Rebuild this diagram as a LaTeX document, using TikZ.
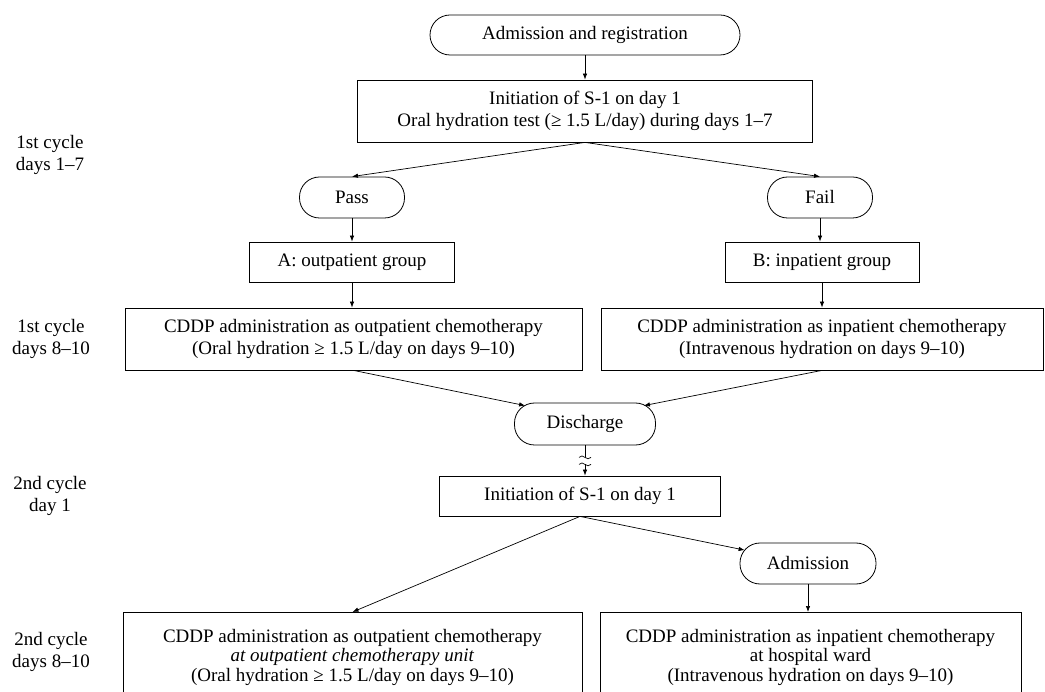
\documentclass[tikz,border=0pt]{standalone}
\usepackage{fontspec}
\setmainfont{Liberation Serif}
\usetikzlibrary{arrows.meta,calc}
\begin{document}
\begin{tikzpicture}[x=1pt,y=-1pt,
  every node/.style={font=\fontsize{19}{21.5}\selectfont, inner sep=0pt, align=center},
  stepbox/.style={draw, line width=0.8pt},
  pill/.style={draw, line width=0.8pt, rounded corners=20pt},
  lab/.style={font=\fontsize{19}{22}\selectfont},
  arr/.style={line width=0.7pt, -{Latex[length=6pt,width=4.5pt]}},
  ln/.style={line width=0.7pt}]
\useasboundingbox (0,0) rectangle (1045,692);
\clip (0,0) rectangle (1045,692);
\fill[white] (0,0) rectangle (1045,692);

% left labels
\node[lab] (l1) at (50,155) {1st cycle\\days 1–7};
\node[lab] (l2) at (51,339) {1st cycle\\days 8–10};
\node[lab] (l3) at (50,496) {2nd cycle\\day 1};
\node[lab] (l4) at (51,652) {2nd cycle\\days 8–10};

% nodes
\node[pill, minimum width=310, minimum height=40] (reg) at (585,35) {Admission and registration};
\node[stepbox, minimum width=455, minimum height=62] (test) at (585,111)
  {Initiation of S-1 on day 1\\Oral hydration test (≥ 1.5 L/day) during days 1–7};
\node[pill, minimum width=105, minimum height=41] (pass) at (352,197.5) {Pass};
\node[pill, minimum width=105, minimum height=41] (fail) at (820,197.5) {Fail};
\node[stepbox, minimum width=205, minimum height=40] (ga) at (352,262) {A: outpatient group};
\node[stepbox, minimum width=194, minimum height=40] (gb) at (822,262) {B: inpatient group};
\node[stepbox, minimum width=457, minimum height=62] (c1a) at (353.5,339)
  {CDDP administration as outpatient chemotherapy\\(Oral hydration ≥ 1.5 L/day on days 9–10)};
\node[stepbox, minimum width=442, minimum height=62] (c1b) at (822,339)
  {CDDP administration as inpatient chemotherapy\\(Intravenous hydration on days 9–10)};
\node[pill, minimum width=141, minimum height=42] (dis) at (585,424) {Discharge};
\node[stepbox, minimum width=281, minimum height=40] (s2) at (580,496) {Initiation of S-1 on day 1};
\node[pill, minimum width=136, minimum height=41] (adm) at (808,563.5) {Admission};
\node[stepbox, anchor=north, minimum width=459, minimum height=90, font=\fontsize{19}{19.5}\selectfont] (c2a) at (352.5,612)
  {CDDP administration as outpatient chemotherapy\\\textit{at outpatient chemotherapy unit}\\(Oral hydration ≥ 1.5 L/day on days 9–10)};
\node[stepbox, anchor=north, minimum width=421, minimum height=90, font=\fontsize{19}{19.5}\selectfont] (c2b) at (810.5,612)
  {CDDP administration as inpatient chemotherapy\\at hospital ward\\(Intravenous hydration on days 9–10)};

% connectors
\draw[arr] (reg.south) -- (test.north);
\draw[arr] (test.south) -- (pass.north);
\draw[arr] (test.south) -- (fail.north);
\draw[arr] (pass.south) -- (ga.north);
\draw[arr] (fail.south) -- (fail.south |- gb.north);
\draw[arr] (ga.south) -- (ga.south |- c1a.north);
\draw[arr] (gb.south) -- (gb.south |- c1b.north);
\draw[arr] (c1a.south) -- ($(dis.north west)+(11,3)$);
\draw[arr] (c1b.south) -- ($(dis.north east)+(-12,3)$);

\coordinate (b1) at ($(dis.south)+(0,12)$);
\coordinate (b2) at ($(dis.south)+(0,19)$);
\draw[ln] (dis.south) -- (b1);
\draw[ln] ($(b1)+(-6,0)$) .. controls ($(b1)+(-2,-5)$) and ($(b1)+(2,5)$) .. ($(b1)+(6,0)$);
\draw[ln] ($(b2)+(-6,0)$) .. controls ($(b2)+(-2,-5)$) and ($(b2)+(2,5)$) .. ($(b2)+(6,0)$);
\draw[arr] (b2) -- (b2 |- s2.north);

\draw[arr] (s2.south) -- (c2a.north);
\draw[arr] (s2.south) -- ($(adm.west)+(5,-13.4)$);
\draw[arr] (adm.south) -- (adm.south |- c2b.north);
\end{tikzpicture}
\end{document}
